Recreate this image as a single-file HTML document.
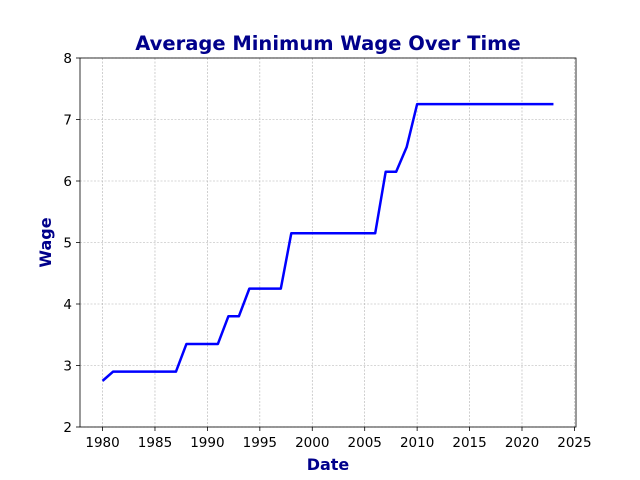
<!DOCTYPE html>
<html><head><meta charset="utf-8"><style>
body{margin:0;background:#fff;}
svg{display:block;font-family:"DejaVu Sans","Liberation Sans",sans-serif;}
</style></head><body>
<svg id="chart" width="640" height="480"></svg>
<script>
const years=[];for(let y=1980;y<=2023;y++)years.push(y);
const wages=[2.75,2.9,2.9,2.9,2.9,2.9,2.9,2.9,3.35,3.35,3.35,3.35,3.8,3.8,4.25,4.25,4.25,4.25,5.15,5.15,5.15,5.15,5.15,5.15,5.15,5.15,5.15,6.15,6.15,6.55,7.25,7.25,7.25,7.25,7.25,7.25,7.25,7.25,7.25,7.25,7.25,7.25,7.25,7.25];
const xTicks=[1980,1985,1990,1995,2000,2005,2010,2015,2020,2025];
const yTicks=[2,3,4,5,6,7,8];
const L=80,R=576,T=58,B=427;
const xmin=1977.85,xmax=2025.15,ymin=2,ymax=8;
const sx=v=>L+(v-xmin)/(xmax-xmin)*(R-L);
const sy=v=>B-(v-ymin)/(ymax-ymin)*(B-T);
const svg=document.getElementById('chart');
const NS='http://www.w3.org/2000/svg';
function mk(tag,attrs,parent){const e=document.createElementNS(NS,tag);for(const k in attrs)e.setAttribute(k,attrs[k]);(parent||svg).appendChild(e);return e;}
const grid=mk('g',{});


xTicks.forEach(t=>{
  const x=sx(t);
  const gl=mk('line',{x1:x,x2:x,y1:T,y2:B,stroke:'#b0b0b0','stroke-width':0.6,'stroke-dasharray':'2,1.5'},grid);
  
  
  const tk=mk('line',{x1:x,x2:x,y1:B,y2:B+4,stroke:'#000','stroke-width':0.8});
  
  
  const tx=mk('text',{x:x,y:B+20,'text-anchor':'middle','font-size':13.5,fill:'#000'});
  tx.textContent=t;
  
  
});
yTicks.forEach(t=>{
  const y=sy(t);
  const gl=mk('line',{x1:L,x2:R,y1:y,y2:y,stroke:'#b0b0b0','stroke-width':0.6,'stroke-dasharray':'2,1.5'},grid);
  
  
  const tk=mk('line',{x1:L-4,x2:L,y1:y,y2:y,stroke:'#000','stroke-width':0.8});
  
  
  const tx=mk('text',{x:L-8,y:y+5,'text-anchor':'end','font-size':13.5,fill:'#000'});
  tx.textContent=t;
  
  
});
const pts=years.map((y,i)=>sx(y)+','+sy(wages[i])).join(' ');
const line=mk('polyline',{points:pts,fill:'none',stroke:'#0000ff','stroke-width':2.5,'stroke-linejoin':'round'});


const frame=mk('rect',{x:L,y:T,width:R-L,height:B-T,fill:'none',stroke:'#000','stroke-width':0.8});


const title=mk('text',{x:(L+R)/2,y:50,'text-anchor':'middle','font-size':19.5,'font-weight':'bold',fill:'#00008b'});
title.textContent='Average Minimum Wage Over Time';


const xl=mk('text',{x:(L+R)/2,y:470,'text-anchor':'middle','font-size':16,'font-weight':'bold',fill:'#00008b'});
xl.textContent='Date';


const yl=mk('text',{x:0,y:0,'text-anchor':'middle','font-size':16,'font-weight':'bold',fill:'#00008b',transform:'translate(51,'+((T+B)/2)+') rotate(-90)'});
yl.textContent='Wage';


</script>
</body></html>
